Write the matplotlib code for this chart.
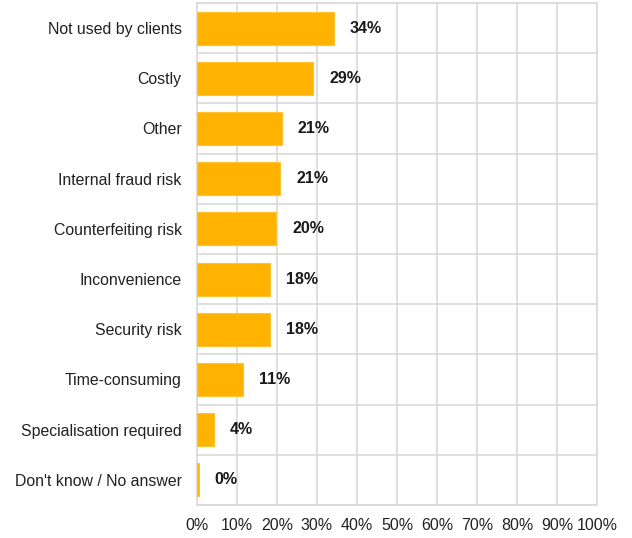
import numpy as np
import matplotlib.pyplot as plt
from matplotlib.ticker import MultipleLocator, FuncFormatter

categories = [
    "Not used by clients",
    "Costly",
    "Other",
    "Internal fraud risk",
    "Counterfeiting risk",
    "Inconvenience",
    "Security risk",
    "Time-consuming",
    "Specialisation required",
    "Don't know / No answer",
]
values = [34.2, 29.0, 21.2, 20.8, 19.8, 18.2, 18.2, 11.4, 4.2, 0.4]

plt.rcParams['font.family'] = ['Liberation Sans', 'DejaVu Sans']

fig = plt.figure(figsize=(6.32, 5.38), dpi=100)
ax = fig.add_axes([197 / 632, 1 - 505 / 538, 400 / 632, 502 / 538])

y = np.arange(len(categories))
ax.barh(y, values, height=0.66, color='#FFB300', edgecolor='#FFC233', linewidth=0.8, zorder=3)

for yi, v in zip(y, values):
    ax.text(v + 4, yi, f"{round(v):.0f}%", va='center', ha='left',
            fontsize=11.5, fontweight='bold', color='#1a1a1a', zorder=4)

ax.set_xlim(0, 100)
ax.set_ylim(len(categories) - 0.5, -0.5)
ax.set_yticks(y)
ax.set_yticklabels(categories, fontsize=11.4, color='#222222')
ax.set_yticks(np.arange(len(categories) + 1) - 0.5, minor=True)
ax.xaxis.set_major_locator(MultipleLocator(10))
ax.xaxis.set_major_formatter(FuncFormatter(lambda x, p: f"{x:.0f}%"))
ax.tick_params(axis='x', labelsize=11.5, colors='#222222', length=0, pad=9)
ax.tick_params(axis='y', which='both', length=0, pad=11)

ax.grid(axis='x', which='major', color='#d9d9d9', linewidth=1.2, zorder=0)
ax.grid(axis='y', which='minor', color='#d9d9d9', linewidth=1.2, zorder=0)
ax.grid(axis='y', which='major', visible=False)
for s in ax.spines.values():
    s.set_color('#d9d9d9')
    s.set_linewidth(1.2)

fig.savefig('out.png', dpi=100)
